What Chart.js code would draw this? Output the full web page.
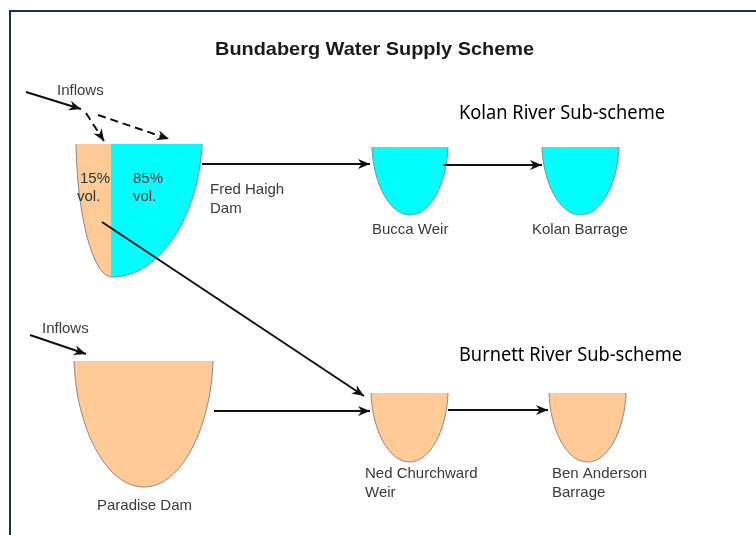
<!DOCTYPE html>
<html>
<head>
<meta charset="utf-8">
<script src="https://cdn.jsdelivr.net/npm/chart.js@4/dist/chart.umd.min.js"></script>
<style>
html,body{margin:0;padding:0;background:#fff;}
#wrap{width:756px;height:535px;}
</style>
</head>
<body>
<div id="wrap"><canvas id="c" width="756" height="535"></canvas></div>
<script>
// ---- content ----
const chartTitle = 'Bundaberg Water Supply Scheme';
const subSchemes = ['Kolan River Sub-scheme', 'Burnett River Sub-scheme'];
const reservoirs = ['Fred Haigh Dam', 'Bucca Weir', 'Kolan Barrage', 'Paradise Dam', 'Ned Churchward Weir', 'Ben Anderson Barrage'];
const reservoirLabelLines = [['Fred Haigh', 'Dam'], ['Bucca Weir'], ['Kolan Barrage'], ['Paradise Dam'], ['Ned Churchward', 'Weir'], ['Ben Anderson', 'Barrage']];
const reservoirScheme = ['Kolan', 'Kolan', 'Kolan', 'Burnett', 'Burnett', 'Burnett'];
const fredHaighSplit = [15, 85];          // % of volume: Burnett share, Kolan share
const fredHaighSplitLabels = ['15%\nvol.', '85%\nvol.'];
const inflowLabel = 'Inflows';
// flows: [from, to] indices into reservoirs
const flowFrom = [0, 1, 0, 3, 4];
const flowTo   = [1, 2, 4, 4, 5];

// ---- layout (diagram units = pixels of a 756x535 sheet) ----
const bowlLeft   = [76, 372, 542, 74, 371, 549];
const bowlRight  = [202, 448, 619, 213, 448, 626];
const bowlTop    = [144, 147, 147, 361, 393, 393];
const bowlBottom = [277, 215, 215, 487, 462, 462];
const bowlLowX   = [112, 410, 580.5, 144, 409.5, 587.5];
const splitX     = 111;
const flowStart  = [[202,164],[443,165],[102,222],[214,411],[448,410]];
const flowEnd    = [[370,164],[542,165],[364,396],[370,411],[548,410]];
const inflowStart = [[26,92],[86,113],[98,115],[30,335]];
const inflowEnd   = [[81,109],[104,141],[169,139],[86,354]];
const inflowDashed = [false, true, true, false];

const colKolan = '#00FFFF';
const colBurnett = '#FFCA95';
const labelCol = '#3a3a3a';

// ---- datasets: arrows as line segments through the scales ----
const datasets = [];
flowFrom.forEach((f, i) => {
  datasets.push({
    label: reservoirs[f] + ' → ' + reservoirs[flowTo[i]],
    data: [{x: flowStart[i][0], y: flowStart[i][1]}, {x: flowEnd[i][0], y: flowEnd[i][1]}],
    showLine: true, borderColor: '#111', borderWidth: 2, pointRadius: 0, arrow: true
  });
});
inflowStart.forEach((s, i) => {
  datasets.push({
    label: inflowLabel,
    data: [{x: s[0], y: s[1]}, {x: inflowEnd[i][0], y: inflowEnd[i][1]}],
    showLine: true, borderColor: '#111', borderWidth: 2, pointRadius: 0,
    borderDash: inflowDashed[i] ? [8, 5] : [], arrow: true
  });
});

function bowlCurve(ctx, L, R, T, B, bx) {
  const h = B - T;
  ctx.moveTo(L, T);
  ctx.bezierCurveTo(L + (bx - L) * 0.03, T + h * 0.52, bx - (bx - L) * 0.55, B, bx, B);
  ctx.bezierCurveTo(bx + (R - bx) * 0.55, B, R - (R - bx) * 0.03, T + h * 0.52, R, T);
}

function stretchedText(ctx, text, x, y, width) {
  const w = ctx.measureText(text).width;
  ctx.save();
  ctx.translate(x, y);
  ctx.scale(width / w, 1);
  ctx.fillText(text, 0, 0);
  ctx.restore();
}

const diagramPlugin = {
  id: 'diagram',
  beforeDraw(chart) {
    const ctx = chart.ctx;
    ctx.save();
    ctx.fillStyle = '#fff';
    ctx.fillRect(0, 0, chart.width, chart.height);
    ctx.restore();
  },
  beforeDatasetsDraw(chart) {
    const ctx = chart.ctx, xs = chart.scales.x, ys = chart.scales.y;
    const X = v => xs.getPixelForValue(v), Y = v => ys.getPixelForValue(v);
    ctx.save();
    // frame
    ctx.strokeStyle = '#1f3347';
    ctx.lineWidth = 2;
    ctx.beginPath();
    ctx.moveTo(X(10), Y(540)); ctx.lineTo(X(10), Y(11)); ctx.lineTo(X(760), Y(11));
    ctx.stroke();
    // bowls
    reservoirs.forEach((r, i) => {
      const L = X(bowlLeft[i]), R = X(bowlRight[i]), T = Y(bowlTop[i]), B = Y(bowlBottom[i]), bx = X(bowlLowX[i]);
      ctx.beginPath(); bowlCurve(ctx, L, R, T, B, bx); ctx.closePath();
      ctx.fillStyle = reservoirScheme[i] === 'Kolan' ? colKolan : colBurnett;
      ctx.fill();
      if (i === 0) {
        ctx.save();
        ctx.beginPath(); bowlCurve(ctx, L, R, T, B, bx); ctx.closePath();
        ctx.clip();
        ctx.fillStyle = colBurnett;
        ctx.fillRect(L - 2, T - 2, X(splitX) - L + 2, B - T + 4);
        ctx.restore();
      }
      ctx.beginPath(); bowlCurve(ctx, L, R, T, B, bx);
      ctx.strokeStyle = '#8a8a8a';
      ctx.lineWidth = 1;
      ctx.stroke();
    });
    // texts
    ctx.textBaseline = 'alphabetic';
    ctx.textAlign = 'left';
    ctx.fillStyle = '#1a1a1a';
    ctx.font = 'bold 19px "Liberation Sans", Arial, sans-serif';
    stretchedText(ctx, chartTitle, X(215), Y(55), 319);
    ctx.fillStyle = '#000';
    ctx.font = '19px "Noto Sans", sans-serif';
    ctx.fillText(subSchemes[0], X(459), Y(119), 206);
    ctx.fillText(subSchemes[1], X(459), Y(361), 223);
    ctx.fillStyle = labelCol;
    ctx.font = '15px "Liberation Sans", Arial, sans-serif';
    const labelX = [210, 372, 532, 97, 365, 552];
    const labelY = [194, 234, 234, 510, 478, 478];
    reservoirLabelLines.forEach((lines, i) => {
      lines.forEach((t, k) => ctx.fillText(t, X(labelX[i]), Y(labelY[i] + k * 19)));
    });
    ctx.fillText(inflowLabel, X(57), Y(95));
    ctx.fillText(inflowLabel, X(42), Y(333));
    ctx.fillStyle = '#2a3a3a';
    const splitTx = [80, 133];
    fredHaighSplitLabels.forEach((s, i) => {
      s.split('\n').forEach((t, k) => ctx.fillText(t, X(splitTx[i] - (k && i === 0 ? 3 : 0)), Y(183 + k * 18)));
    });
    ctx.restore();
  },
  afterDatasetsDraw(chart) {
    const ctx = chart.ctx;
    ctx.save();
    chart.data.datasets.forEach((ds, i) => {
      if (!ds.arrow) return;
      const pts = chart.getDatasetMeta(i).data;
      const a = pts[0], b = pts[pts.length - 1];
      const ang = Math.atan2(b.y - a.y, b.x - a.x);
      const len = 12, wid = 5;
      ctx.translate(b.x, b.y);
      ctx.rotate(ang);
      ctx.beginPath();
      ctx.moveTo(0, 0);
      ctx.lineTo(-len, -wid);
      ctx.lineTo(-len * 0.7, 0);
      ctx.lineTo(-len, wid);
      ctx.closePath();
      ctx.fillStyle = '#111';
      ctx.fill();
      ctx.setTransform(1, 0, 0, 1, 0, 0);
    });
    ctx.restore();
  }
};

new Chart(document.getElementById('c'), {
  type: 'scatter',
  data: { datasets },
  options: {
    responsive: false,
    animation: false,
    devicePixelRatio: 1,
    layout: { padding: 0 },
    plugins: { legend: { display: false }, tooltip: { enabled: false }, title: { display: false } },
    scales: {
      x: { type: 'linear', min: 0, max: 756, display: false },
      y: { type: 'linear', min: 0, max: 535, reverse: true, display: false }
    }
  },
  plugins: [diagramPlugin]
});
</script>
</body>
</html>
